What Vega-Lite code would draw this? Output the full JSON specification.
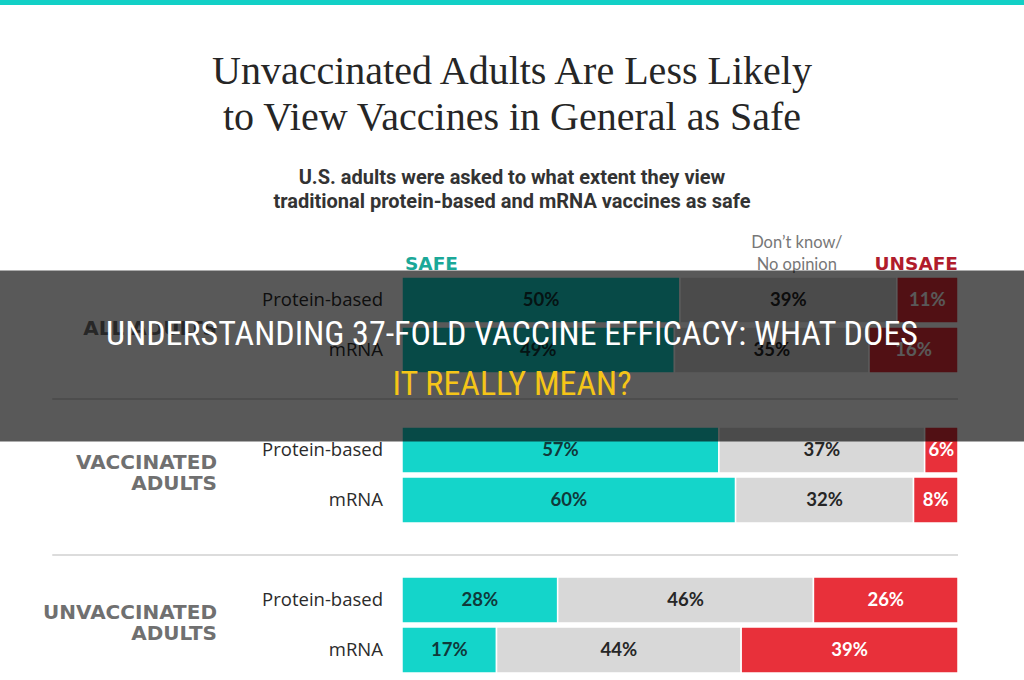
{
  "$schema": "https://vega.github.io/schema/vega-lite/v6.json",
  "background": "#ffffff",
  "padding": 0,
  "spacing": 47,
  "config": {"view": {"stroke": null}, "font": "Lato"},
  "datasets": {
    "survey": [
      {"group": "All adults", "type": "Protein-based", "response": "Safe", "pct": 50},
      {"group": "All adults", "type": "Protein-based", "response": "Don't know", "pct": 39},
      {"group": "All adults", "type": "Protein-based", "response": "Unsafe", "pct": 11},
      {"group": "All adults", "type": "mRNA", "response": "Safe", "pct": 49},
      {"group": "All adults", "type": "mRNA", "response": "Don't know", "pct": 35},
      {"group": "All adults", "type": "mRNA", "response": "Unsafe", "pct": 16},
      {"group": "Vaccinated adults", "type": "Protein-based", "response": "Safe", "pct": 57},
      {"group": "Vaccinated adults", "type": "Protein-based", "response": "Don't know", "pct": 37},
      {"group": "Vaccinated adults", "type": "Protein-based", "response": "Unsafe", "pct": 6},
      {"group": "Vaccinated adults", "type": "mRNA", "response": "Safe", "pct": 60},
      {"group": "Vaccinated adults", "type": "mRNA", "response": "Don't know", "pct": 32},
      {"group": "Vaccinated adults", "type": "mRNA", "response": "Unsafe", "pct": 8},
      {"group": "Unvaccinated adults", "type": "Protein-based", "response": "Safe", "pct": 28},
      {"group": "Unvaccinated adults", "type": "Protein-based", "response": "Don't know", "pct": 46},
      {"group": "Unvaccinated adults", "type": "Protein-based", "response": "Unsafe", "pct": 26},
      {"group": "Unvaccinated adults", "type": "mRNA", "response": "Safe", "pct": 17},
      {"group": "Unvaccinated adults", "type": "mRNA", "response": "Don't know", "pct": 44},
      {"group": "Unvaccinated adults", "type": "mRNA", "response": "Unsafe", "pct": 39}
    ],
    "groups": [
      {"group": "All adults", "label": "ALL ADULTS"},
      {"group": "Vaccinated adults", "label": "VACCINATED\nADULTS"},
      {"group": "Unvaccinated adults", "label": "UNVACCINATED\nADULTS"}
    ]
  },
  "vconcat": [
    {
      "width": 1024,
      "height": 5,
      "view": {"fill": "#12d0c6", "stroke": null},
      "data": {"values": []},
      "mark": "rect",
      "encoding": {}
    },
    {
      "width": 1024,
      "height": 446,
      "title": {
        "text": ["Unvaccinated Adults Are Less Likely", "to View Vaccines in General as Safe"],
        "subtitle": ["U.S. adults were asked to what extent they view", "traditional protein-based and mRNA vaccines as safe"],
        "anchor": "middle",
        "frame": "group",
        "font": "Liberation Serif",
        "fontSize": 40,
        "fontWeight": "normal",
        "color": "#262626",
        "lineHeight": 46,
        "subtitleFont": "Roboto",
        "subtitleFontSize": 20,
        "subtitleFontWeight": "bold",
        "subtitleColor": "#333333",
        "subtitleLineHeight": 24,
        "subtitlePadding": 30,
        "offset": 15
      },
      "data": {"name": "survey"},
      "transform": [
        {"calculate": "datum.group + ' | ' + datum.type", "as": "row"},
        {"calculate": "indexof(['Safe', 'Don\\'t know', 'Unsafe'], datum.response)", "as": "k"},
        {"stack": "pct", "groupby": ["row"], "sort": [{"field": "k", "order": "ascending"}], "as": ["x0", "x1"]},
        {"calculate": "(datum.x0 + datum.x1) / 2", "as": "mid"},
        {"calculate": "datum.pct + '%'", "as": "label"}
      ],
      "layer": [
        {
          "mark": {"type": "rect", "stroke": "#ffffff", "strokeWidth": 1.5},
          "encoding": {
            "y": {
              "field": "row",
              "type": "nominal",
              "axis": null,
              "scale": {
                "type": "band",
                "domain": [
                  "header",
                  "All adults | Protein-based",
                  "All adults | mRNA",
                  "gap 1",
                  "Vaccinated adults | Protein-based",
                  "Vaccinated adults | mRNA",
                  "gap 2",
                  "Unvaccinated adults | Protein-based",
                  "Unvaccinated adults | mRNA"
                ],
                "paddingInner": 0.08,
                "paddingOuter": 0
              }
            },
            "x": {"field": "x0", "type": "quantitative", "axis": null, "scale": {"domain": [-72.3, 111.87], "nice": false, "zero": false}},
            "x2": {"field": "x1"},
            "color": {
              "field": "response",
              "type": "nominal",
              "legend": null,
              "scale": {"domain": ["Safe", "Don't know", "Unsafe"], "range": ["#14d5ca", "#d8d8d8", "#e8303a"]}
            }
          }
        },
        {
          "mark": {"type": "text", "font": "Lato", "fontSize": 18.5, "fontWeight": "bold", "baseline": "middle", "align": "center"},
          "encoding": {
            "y": {"field": "row", "type": "nominal"},
            "x": {"field": "mid", "type": "quantitative"},
            "text": {"field": "label"},
            "color": {
              "condition": [
                {"test": "datum.response === 'Unsafe'", "value": "#ffffff"},
                {"test": "datum.response === 'Safe'", "value": "#10393a"}
              ],
              "value": "#262626"
            }
          }
        },
        {
          "transform": [{"filter": "datum.response === 'Safe'"}],
          "mark": {"type": "text", "font": "Open Sans", "fontSize": 18.5, "align": "right", "baseline": "middle", "dx": -19, "color": "#2b2b2b"},
          "encoding": {
            "y": {"field": "row", "type": "nominal"},
            "x": {"datum": 0, "type": "quantitative"},
            "text": {"field": "type"}
          }
        },
        {
          "data": {"name": "groups"},
          "transform": [
            {"filter": "datum.group === 'All adults'"},
            {"calculate": "datum.group + ' | Protein-based'", "as": "row"}
          ],
          "mark": {"type": "text", "font": "DejaVu Sans", "fontSize": 20, "fontWeight": "bold", "align": "right", "baseline": "middle", "dx": -185, "color": "#707070"},
          "encoding": {
            "y": {"field": "row", "type": "nominal", "bandPosition": 1.13},
            "x": {"datum": 0, "type": "quantitative"},
            "text": {"field": "label"}
          }
        },
        {
          "data": {"name": "groups"},
          "transform": [
            {"filter": "datum.group !== 'All adults'"},
            {"calculate": "datum.group + ' | Protein-based'", "as": "row"}
          ],
          "mark": {"type": "text", "font": "DejaVu Sans", "fontSize": 20, "fontWeight": "bold", "align": "right", "baseline": "middle", "lineBreak": "\n", "lineHeight": 21, "dx": -185, "color": "#707070"},
          "encoding": {
            "y": {"field": "row", "type": "nominal", "bandPosition": 0.78},
            "x": {"datum": 0, "type": "quantitative"},
            "text": {"field": "label"}
          }
        },
        {
          "data": {"values": [{}]},
          "mark": {"type": "rule", "stroke": "#dcdcdc", "strokeWidth": 2},
          "encoding": {
            "y": {"datum": "gap 1", "type": "nominal", "bandPosition": 0.48},
            "x": {"datum": -62.9, "type": "quantitative"},
            "x2": {"datum": 100}
          }
        },
        {
          "data": {"values": [{}]},
          "mark": {"type": "rule", "stroke": "#dcdcdc", "strokeWidth": 2},
          "encoding": {
            "y": {"datum": "gap 2", "type": "nominal", "bandPosition": 0.61},
            "x": {"datum": -62.9, "type": "quantitative"},
            "x2": {"datum": 100}
          }
        },
        {
          "data": {"values": [{}]},
          "mark": {"type": "text", "font": "DejaVu Sans", "fontSize": 18.5, "fontWeight": "bold", "align": "left", "baseline": "alphabetic", "dx": 3, "color": "#1ba898"},
          "encoding": {
            "y": {"datum": "header", "type": "nominal", "bandPosition": 0.935},
            "x": {"datum": 0, "type": "quantitative"},
            "text": {"value": "SAFE"}
          }
        },
        {
          "data": {"values": [{}]},
          "mark": {"type": "text", "font": "DejaVu Sans", "fontSize": 18.5, "fontWeight": "bold", "align": "right", "baseline": "alphabetic", "color": "#b01c2c"},
          "encoding": {
            "y": {"datum": "header", "type": "nominal", "bandPosition": 0.935},
            "x": {"datum": 100, "type": "quantitative"},
            "text": {"value": "UNSAFE"}
          }
        },
        {
          "data": {"values": [{}]},
          "mark": {"type": "text", "font": "Lato", "fontSize": 16.5, "align": "center", "baseline": "bottom", "lineHeight": 22, "color": "#777777"},
          "encoding": {
            "y": {"datum": "header", "type": "nominal", "bandPosition": 0.52},
            "x": {"datum": 71, "type": "quantitative"},
            "text": {"value": ["Don’t know/", "No opinion"]}
          }
        },
        {
          "data": {"values": [{}]},
          "mark": {"type": "rule", "stroke": "#000000", "strokeWidth": 171, "strokeCap": "butt", "opacity": 0.65, "clip": true},
          "encoding": {
            "y": {"datum": "All adults | mRNA", "type": "nominal", "bandPosition": 0.63},
            "x": {"datum": -72.3, "type": "quantitative"},
            "x2": {"datum": 111.87}
          }
        },
        {
          "data": {"values": [{}]},
          "mark": {"type": "text", "font": "Roboto Condensed, DejaVu Sans Condensed, Roboto", "fontSize": 34, "align": "center", "baseline": "middle", "dy": -21, "color": "#ffffff", "clip": true},
          "encoding": {
            "y": {"datum": "All adults | mRNA", "type": "nominal", "bandPosition": 0.63},
            "x": {"value": {"expr": "width / 2"}},
            "text": {"value": "UNDERSTANDING 37-FOLD VACCINE EFFICACY: WHAT DOES"}
          }
        },
        {
          "data": {"values": [{}]},
          "mark": {"type": "text", "font": "Roboto Condensed, DejaVu Sans Condensed, Roboto", "fontSize": 34, "align": "center", "baseline": "middle", "dy": 29, "color": "#f5c518", "clip": true},
          "encoding": {
            "y": {"datum": "All adults | mRNA", "type": "nominal", "bandPosition": 0.63},
            "x": {"value": {"expr": "width / 2"}},
            "text": {"value": "IT REALLY MEAN?"}
          }
        }
      ]
    }
  ]
}
